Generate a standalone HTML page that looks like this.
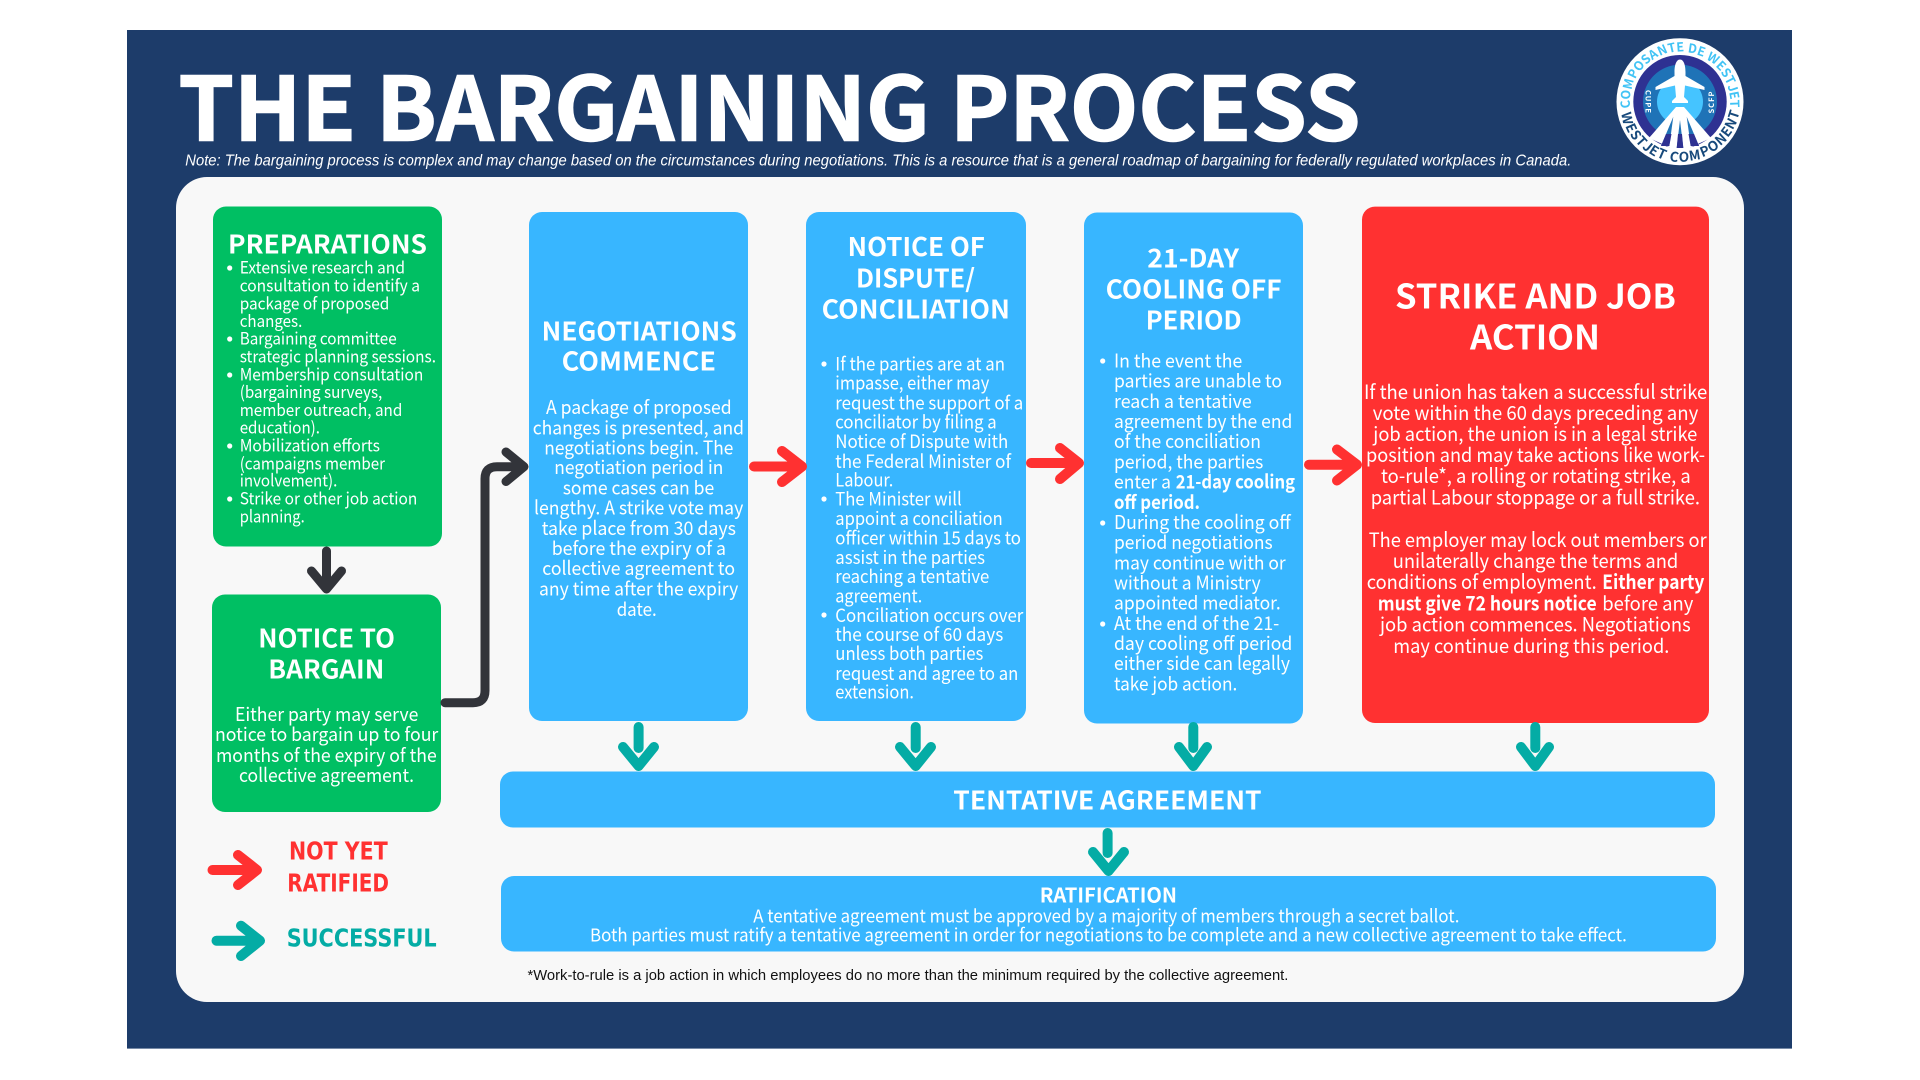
<!DOCTYPE html>
<html><head><meta charset="utf-8"><title>The Bargaining Process</title>
<style>
html,body{margin:0;padding:0;background:#fff;width:1920px;height:1080px;overflow:hidden}
svg{display:block}
text{font-family:"Noto Sans CJK JP","Liberation Sans",sans-serif;fill:#fff;white-space:pre}
.h,.n,.s,.r{transform:translateY(1px)}
.p,.d{transform:translateY(.4px)}
.h{font-weight:700;font-size:25.5px}
.p{font-size:16.8px}
.n{font-size:18.8px}
.d{font-size:18.3px}
.s{font-size:19.8px}
.r{font-size:18px}
.b{font-weight:700}
.lib{font-family:"Liberation Sans",sans-serif}
.leg{font-family:"DejaVu Sans",sans-serif;font-weight:700;font-size:24.5px}
.arr{fill:none;stroke-linecap:round;stroke-linejoin:round}
</style></head><body>
<svg width="1920" height="1080" viewBox="0 0 1920 1080" xmlns="http://www.w3.org/2000/svg">
<rect x="127" y="30" width="1665" height="1018.6" fill="#1d3c6a"/>
<rect x="176" y="177" width="1568" height="825" rx="31" fill="#f8f8f8"/>
<text x="178.5" y="140.7" textLength="1182" lengthAdjust="spacingAndGlyphs" style="font-size:88px;font-weight:700;stroke:#fff;stroke-width:1.5px">THE BARGAINING PROCESS</text>
<text class="lib" x="185.3" y="165.7" textLength="1386" lengthAdjust="spacingAndGlyphs" style="font-size:15.5px;font-style:italic">Note: The bargaining process is complex and may change based on the circumstances during negotiations. This is a resource that is a general roadmap of bargaining for federally regulated workplaces in Canada.</text>

<!-- logo -->
<circle cx="1680" cy="101.7" r="63.5" fill="#fff"/>
<circle cx="1680" cy="101.7" r="46.7" fill="#2e3192"/>
<circle cx="1680" cy="101.7" r="37" fill="#1f73b7"/>
<circle cx="1680" cy="101.7" r="23" fill="#45c4ff"/>
<polygon points="1676,107 1684,107 1711,138 1680,152 1649,138" fill="#fff"/>
<polygon points="1673.3,116.7 1661,146 1669.3,146" fill="#1f73b7"/>
<polygon points="1680,120 1676.7,148 1683.3,148" fill="#1f73b7"/>
<polygon points="1686.7,116.7 1690.7,146 1699,146" fill="#1f73b7"/>
<polygon points="1666,134 1661,146 1669.3,146 1671.5,134" fill="#2e3192"/>
<polygon points="1678,134 1676.7,148 1683.3,148 1682,134" fill="#2e3192"/>
<polygon points="1688.5,134 1690.7,146 1699,146 1694,134" fill="#2e3192"/>
<path fill="#fff" d="M1680 59.5C1684 59.5 1685.5 66 1685.5 72L1685.5 76 1704.5 87 1704.5 90 1685 85.5 1684 97 1688 101 1688 103 1672 103 1672 101 1676 97 1675 85.5 1655.5 90 1655.5 87 1674.5 76 1674.5 72C1674.5 66 1676 59.5 1680 59.5Z"/>
<text style="font-size:12.5px;font-weight:700;fill:#41c3f5"
 x="1630.4 1630 1631.4 1635.2 1639.7 1646 1652.1 1659.8 1668.9 1676.6 1684.4 1687.5 1696.2 1703.3 1706 1715.2 1720.3 1724.4 1727.4 1729.1 1730"
 y="107.8 99.6 90.1 79.4 72.2 65 60.2 56 52.96 51.8 51.9 52.3 54.4 57.4 59 66.2 72.1 78.6 85.9 92.2 99.9"
 rotate="-97 -87.56 -76.54 -63.52 -53.79 -42.78 -33.91 -23.89 -12.88 -3.86 5.01 8.58 18.88 27.75 31.32 44.77 53.64 62.5 71.52 79.1 87.97">COMPOSANTE DE WESTJET</text>
<text style="font-size:13.5px;font-weight:700;fill:#17497b"
 x="1621.1 1625.1 1629.5 1635 1641.6 1648 1656.1 1664.9 1669 1678.6 1689.8 1702.3 1711.2 1720.2 1727.7 1732.7 1737.1"
 y="113.1 126 134 141.3 147.8 152.5 156.7 159.8 160.7 161.7 160.9 157.4 152.9 146.3 138 130.4 120.1"
 rotate="79 66.13 57.38 48.64 39.77 32.18 23.44 14.56 10.59 1.33 -9.35 -21.84 -31.35 -42.02 -52.71 -61.46 -72.14">WESTJET COMPONENT</text>
<text transform="translate(1645.5,102) rotate(90)" text-anchor="middle" style="font-size:7.5px;font-weight:700;letter-spacing:1px">CUPE</text>
<text transform="translate(1714,102) rotate(-90)" text-anchor="middle" style="font-size:7.5px;font-weight:700;letter-spacing:1px">SCFP</text>

<!-- boxes -->
<rect x="213" y="206.5" width="229" height="340" rx="13" fill="#00bf63"/>
<rect x="212" y="594.5" width="229" height="217.5" rx="13" fill="#00bf63"/>
<rect x="529" y="212" width="219" height="509" rx="13" fill="#38b6ff"/>
<rect x="806" y="212" width="220" height="509" rx="13" fill="#38b6ff"/>
<rect x="1084" y="212.5" width="219" height="511" rx="13" fill="#38b6ff"/>
<rect x="1362" y="206.6" width="347" height="516.4" rx="13" fill="#ff3131"/>
<rect x="500" y="771.5" width="1215" height="56" rx="13" fill="#38b6ff"/>
<rect x="501" y="876" width="1215" height="75.5" rx="13" fill="#38b6ff"/>

<!-- arrows -->
<g class="arr" stroke="#32343a" stroke-width="9">
<path d="M326.5 551V580M311.5 571L326.5 589 341.5 571"/>
<path d="M445 702.7H473Q485 702.7 485 690.7V478.7Q485 466.7 497 466.7H522M506 452L524 466.7 506 481.5"/>
</g>
<g class="arr" stroke="#ff3131" stroke-width="10">
<path d="M754 466.5H798M782 451L802 466.5 782 482"/>
<path d="M1031 463H1075M1060 448L1079 463 1060 479"/>
<path d="M1309 464.7H1353M1337 449.5L1357 464.7 1337 480.5"/>
<path d="M212.5 870H254M238 855L257 870 238 885"/>
</g>
<g class="arr" stroke="#04aca5" stroke-width="10">
<path d="M216.5 940.7H257M241 925.7L260 940.7 241 956"/>
<path d="M638.6 727V748M623 747L638.6 766 654 747"/>
<path d="M915.7 727V748M900 747L915.7 766 931 747"/>
<path d="M1193.3 727V748M1179 747L1193.3 766 1207 747"/>
<path d="M1535.3 727V748M1521 747L1535.3 766 1549 747"/>
<path d="M1107.6 833V853M1093 852L1108.5 871 1124 852"/>
</g>

<!-- preparations -->
<text class="h" x="228" y="252.3" textLength="199" lengthAdjust="spacingAndGlyphs">PREPARATIONS</text>
<g fill="#fff"><circle cx="229.7" cy="268" r="2.6"/><circle cx="229.7" cy="339" r="2.6"/><circle cx="229.7" cy="375" r="2.6"/><circle cx="229.7" cy="446" r="2.6"/><circle cx="229.7" cy="499" r="2.6"/></g>
<text class="p" x="239.7" y="273.3" textLength="165.3" lengthAdjust="spacingAndGlyphs">Extensive research and</text>
<text class="p" x="239.7" y="291.3" textLength="180.3" lengthAdjust="spacingAndGlyphs">consultation to identify a</text>
<text class="p" x="239.7" y="309.3" textLength="149.6" lengthAdjust="spacingAndGlyphs">package of proposed</text>
<text class="p" x="239.7" y="326.7" textLength="62.6" lengthAdjust="spacingAndGlyphs">changes.</text>
<text class="p" x="239.7" y="344.3" textLength="157" lengthAdjust="spacingAndGlyphs">Bargaining committee</text>
<text class="p" x="239.7" y="362.3" textLength="196.3" lengthAdjust="spacingAndGlyphs">strategic planning sessions.</text>
<text class="p" x="239.7" y="380.3" textLength="183.6" lengthAdjust="spacingAndGlyphs">Membership consultation</text>
<text class="p" x="239.7" y="397.7" textLength="142.6" lengthAdjust="spacingAndGlyphs">(bargaining surveys,</text>
<text class="p" x="239.7" y="415.7" textLength="162.6" lengthAdjust="spacingAndGlyphs">member outreach, and</text>
<text class="p" x="239.7" y="433.3" textLength="80.3" lengthAdjust="spacingAndGlyphs">education).</text>
<text class="p" x="239.7" y="451.3" textLength="140.3" lengthAdjust="spacingAndGlyphs">Mobilization efforts</text>
<text class="p" x="239.7" y="469.3" textLength="145.3" lengthAdjust="spacingAndGlyphs">(campaigns member</text>
<text class="p" x="239.7" y="486.3" textLength="97.6" lengthAdjust="spacingAndGlyphs">involvement).</text>
<text class="p" x="239.7" y="504.3" textLength="177.6" lengthAdjust="spacingAndGlyphs">Strike or other job action</text>
<text class="p" x="239.7" y="522.3" textLength="65" lengthAdjust="spacingAndGlyphs">planning.</text>

<!-- notice to bargain -->
<text class="h" x="258.3" y="646.7" textLength="136.7" lengthAdjust="spacingAndGlyphs">NOTICE TO</text>
<text class="h" x="268.3" y="677.3" textLength="116" lengthAdjust="spacingAndGlyphs">BARGAIN</text>
<text class="n" x="235" y="720" textLength="183.3" lengthAdjust="spacingAndGlyphs">Either party may serve</text>
<text class="n" x="215" y="740" textLength="223.3" lengthAdjust="spacingAndGlyphs">notice to bargain up to four</text>
<text class="n" x="216" y="761" textLength="220.7" lengthAdjust="spacingAndGlyphs">months of the expiry of the</text>
<text class="n" x="239" y="781" textLength="175" lengthAdjust="spacingAndGlyphs">collective agreement.</text>

<!-- legend -->
<text class="leg" x="289" y="859.3" textLength="98.7" lengthAdjust="spacingAndGlyphs" style="fill:#ff3131">NOT YET</text>
<text class="leg" x="287.3" y="891.7" textLength="101.7" lengthAdjust="spacingAndGlyphs" style="fill:#ff3131">RATIFIED</text>
<text class="leg" x="286.7" y="946.7" textLength="150" lengthAdjust="spacingAndGlyphs" style="fill:#04aca5">SUCCESSFUL</text>

<!-- negotiations -->
<text class="h" x="541.7" y="339.6" textLength="195" lengthAdjust="spacingAndGlyphs">NEGOTIATIONS</text>
<text class="h" x="561.7" y="369.7" textLength="154.3" lengthAdjust="spacingAndGlyphs">COMMENCE</text>
<text class="n" x="546" y="413" textLength="185.7" lengthAdjust="spacingAndGlyphs">A package of proposed</text>
<text class="n" x="532.7" y="433.3" textLength="211.3" lengthAdjust="spacingAndGlyphs">changes is presented, and</text>
<text class="n" x="544.3" y="453.5" textLength="189" lengthAdjust="spacingAndGlyphs">negotiations begin. The</text>
<text class="n" x="554.3" y="473.2" textLength="169" lengthAdjust="spacingAndGlyphs">negotiation period in</text>
<text class="n" x="562.7" y="493.4" textLength="151.6" lengthAdjust="spacingAndGlyphs">some cases can be</text>
<text class="n" x="534" y="513.7" textLength="209.3" lengthAdjust="spacingAndGlyphs">lengthy. A strike vote may</text>
<text class="n" x="541.7" y="534" textLength="194.3" lengthAdjust="spacingAndGlyphs">take place from 30 days</text>
<text class="n" x="551.7" y="554" textLength="174.3" lengthAdjust="spacingAndGlyphs">before the expiry of a</text>
<text class="n" x="542.3" y="574.2" textLength="192.7" lengthAdjust="spacingAndGlyphs">collective agreement to</text>
<text class="n" x="539" y="594.5" textLength="199.3" lengthAdjust="spacingAndGlyphs">any time after the expiry</text>
<text class="n" x="616.7" y="615.1" textLength="40" lengthAdjust="spacingAndGlyphs">date.</text>

<!-- notice of dispute -->
<text class="h" x="847.7" y="255" textLength="137.3" lengthAdjust="spacingAndGlyphs">NOTICE OF</text>
<text class="h" x="856" y="286.5" textLength="119" lengthAdjust="spacingAndGlyphs">DISPUTE/</text>
<text class="h" x="821.7" y="317.6" textLength="188.3" lengthAdjust="spacingAndGlyphs">CONCILIATION</text>
<g fill="#fff"><circle cx="824" cy="364" r="2.6"/><circle cx="824" cy="499" r="2.6"/><circle cx="824" cy="615" r="2.6"/></g>
<text class="d" x="835.3" y="370" textLength="169.7" lengthAdjust="spacingAndGlyphs">If the parties are at an</text>
<text class="d" x="835.3" y="389.3" textLength="154" lengthAdjust="spacingAndGlyphs">impasse, either may</text>
<text class="d" x="835.3" y="408.9" textLength="188" lengthAdjust="spacingAndGlyphs">request the support of a</text>
<text class="d" x="835.3" y="428.2" textLength="161.4" lengthAdjust="spacingAndGlyphs">conciliator by filing a</text>
<text class="d" x="835.3" y="447.8" textLength="173" lengthAdjust="spacingAndGlyphs">Notice of Dispute with</text>
<text class="d" x="835.3" y="467.4" textLength="175.7" lengthAdjust="spacingAndGlyphs">the Federal Minister of</text>
<text class="d" x="835.3" y="486.3" textLength="58" lengthAdjust="spacingAndGlyphs">Labour.</text>
<text class="d" x="835.3" y="505.3" textLength="126.4" lengthAdjust="spacingAndGlyphs">The Minister will</text>
<text class="d" x="835.3" y="524.5" textLength="167.4" lengthAdjust="spacingAndGlyphs">appoint a conciliation</text>
<text class="d" x="835.3" y="544.1" textLength="185.7" lengthAdjust="spacingAndGlyphs">officer within 15 days to</text>
<text class="d" x="835.3" y="563.4" textLength="149.7" lengthAdjust="spacingAndGlyphs">assist in the parties</text>
<text class="d" x="835.3" y="582.4" textLength="154" lengthAdjust="spacingAndGlyphs">reaching a tentative</text>
<text class="d" x="835.3" y="602.3" textLength="87" lengthAdjust="spacingAndGlyphs">agreement.</text>
<text class="d" x="835.3" y="621.6" textLength="188" lengthAdjust="spacingAndGlyphs">Conciliation occurs over</text>
<text class="d" x="835.3" y="640.5" textLength="168" lengthAdjust="spacingAndGlyphs">the course of 60 days</text>
<text class="d" x="835.3" y="659.4" textLength="148" lengthAdjust="spacingAndGlyphs">unless both parties</text>
<text class="d" x="835.3" y="679.4" textLength="183" lengthAdjust="spacingAndGlyphs">request and agree to an</text>
<text class="d" x="835.3" y="698.3" textLength="78.7" lengthAdjust="spacingAndGlyphs">extension.</text>

<!-- 21-day -->
<text class="h" x="1147.3" y="266.5" textLength="91.7" lengthAdjust="spacingAndGlyphs">21-DAY</text>
<text class="h" x="1105.7" y="297.5" textLength="176" lengthAdjust="spacingAndGlyphs">COOLING OFF</text>
<text class="h" x="1145.7" y="328.3" textLength="96" lengthAdjust="spacingAndGlyphs">PERIOD</text>
<g fill="#fff"><circle cx="1102.7" cy="361" r="2.6"/><circle cx="1102.7" cy="523" r="2.6"/><circle cx="1102.7" cy="624" r="2.6"/></g>
<text class="n" x="1114" y="366.5" textLength="128.3" lengthAdjust="spacingAndGlyphs">In the event the</text>
<text class="n" x="1114" y="386.7" textLength="168" lengthAdjust="spacingAndGlyphs">parties are unable to</text>
<text class="n" x="1114" y="406.9" textLength="137.7" lengthAdjust="spacingAndGlyphs">reach a tentative</text>
<text class="n" x="1114" y="427" textLength="178.3" lengthAdjust="spacingAndGlyphs">agreement by the end</text>
<text class="n" x="1114" y="447.2" textLength="147" lengthAdjust="spacingAndGlyphs">of the conciliation</text>
<text class="n" x="1114" y="467.4" textLength="149.3" lengthAdjust="spacingAndGlyphs">period, the parties</text>
<text class="n" x="1114" y="487.6" textLength="57" lengthAdjust="spacingAndGlyphs">enter a</text>
<text class="n b" x="1175.7" y="487.6" textLength="119.3" lengthAdjust="spacingAndGlyphs">21-day cooling</text>
<text class="n b" x="1114" y="507.8" textLength="86" lengthAdjust="spacingAndGlyphs">off period.</text>
<text class="n" x="1114" y="527.9" textLength="176.7" lengthAdjust="spacingAndGlyphs">During the cooling off</text>
<text class="n" x="1114" y="548.1" textLength="158.7" lengthAdjust="spacingAndGlyphs">period negotiations</text>
<text class="n" x="1114" y="568.3" textLength="171.7" lengthAdjust="spacingAndGlyphs">may continue with or</text>
<text class="n" x="1114" y="588.5" textLength="146.7" lengthAdjust="spacingAndGlyphs">without a Ministry</text>
<text class="n" x="1114" y="608.7" textLength="166.7" lengthAdjust="spacingAndGlyphs">appointed mediator.</text>
<text class="n" x="1114" y="628.8" textLength="165.3" lengthAdjust="spacingAndGlyphs">At the end of the 21-</text>
<text class="n" x="1114" y="649" textLength="178.3" lengthAdjust="spacingAndGlyphs">day cooling off period</text>
<text class="n" x="1114" y="669.2" textLength="176" lengthAdjust="spacingAndGlyphs">either side can legally</text>
<text class="n" x="1114" y="689.4" textLength="123.3" lengthAdjust="spacingAndGlyphs">take job action.</text>

<!-- strike -->
<text class="h" x="1395" y="307.5" textLength="281" lengthAdjust="spacingAndGlyphs" style="font-size:33.5px">STRIKE AND JOB</text>
<text class="h" x="1470" y="348.7" textLength="130" lengthAdjust="spacingAndGlyphs" style="font-size:33.5px">ACTION</text>
<text class="s" x="1364" y="397.8" textLength="343.3" lengthAdjust="spacingAndGlyphs">If the union has taken a successful strike</text>
<text class="s" x="1372.7" y="419" textLength="325.6" lengthAdjust="spacingAndGlyphs">vote within the 60 days preceding any</text>
<text class="s" x="1373.3" y="440" textLength="324" lengthAdjust="spacingAndGlyphs">job action, the union is in a legal strike</text>
<text class="s" x="1366" y="461" textLength="339" lengthAdjust="spacingAndGlyphs">position and may take actions like work-</text>
<text class="s" x="1381" y="482" textLength="309.7" lengthAdjust="spacingAndGlyphs">to-rule*, a rolling or rotating strike, a</text>
<text class="s" x="1370.7" y="503.4" textLength="329.3" lengthAdjust="spacingAndGlyphs">partial Labour stoppage or a full strike.</text>
<text class="s" x="1368.7" y="545.8" textLength="338" lengthAdjust="spacingAndGlyphs">The employer may lock out members or</text>
<text class="s" x="1392.7" y="567" textLength="285.6" lengthAdjust="spacingAndGlyphs">unilaterally change the terms and</text>
<text class="s" x="1366.7" y="588" textLength="230" lengthAdjust="spacingAndGlyphs">conditions of employment.</text>
<text class="s b" x="1602.3" y="588" textLength="102" lengthAdjust="spacingAndGlyphs">Either party</text>
<text class="s b" x="1377.7" y="609.3" textLength="219" lengthAdjust="spacingAndGlyphs">must give 72 hours notice</text>
<text class="s" x="1602.3" y="609.3" textLength="91" lengthAdjust="spacingAndGlyphs">before any</text>
<text class="s" x="1380" y="630.4" textLength="310.7" lengthAdjust="spacingAndGlyphs">job action commences. Negotiations</text>
<text class="s" x="1393.3" y="652" textLength="276" lengthAdjust="spacingAndGlyphs">may continue during this period.</text>

<!-- tentative / ratification -->
<text class="h" x="953.3" y="808.7" textLength="308.3" lengthAdjust="spacingAndGlyphs">TENTATIVE AGREEMENT</text>
<text class="h" x="1039.8" y="901.5" textLength="137.2" lengthAdjust="spacingAndGlyphs" style="font-size:20px">RATIFICATION</text>
<text class="r" x="753.3" y="921.7" textLength="706.1" lengthAdjust="spacingAndGlyphs">A tentative agreement must be approved by a majority of members through a secret ballot.</text>
<text class="r" x="590" y="940.7" textLength="1036.8" lengthAdjust="spacingAndGlyphs">Both parties must ratify a tentative agreement in order for negotiations to be complete and a new collective agreement to take effect.</text>
<text class="lib" x="527.5" y="980" textLength="760.9" lengthAdjust="spacingAndGlyphs" style="font-size:15px;fill:#111">*Work-to-rule is a job action in which employees do no more than the minimum required by the collective agreement.</text>
</svg>
</body></html>
